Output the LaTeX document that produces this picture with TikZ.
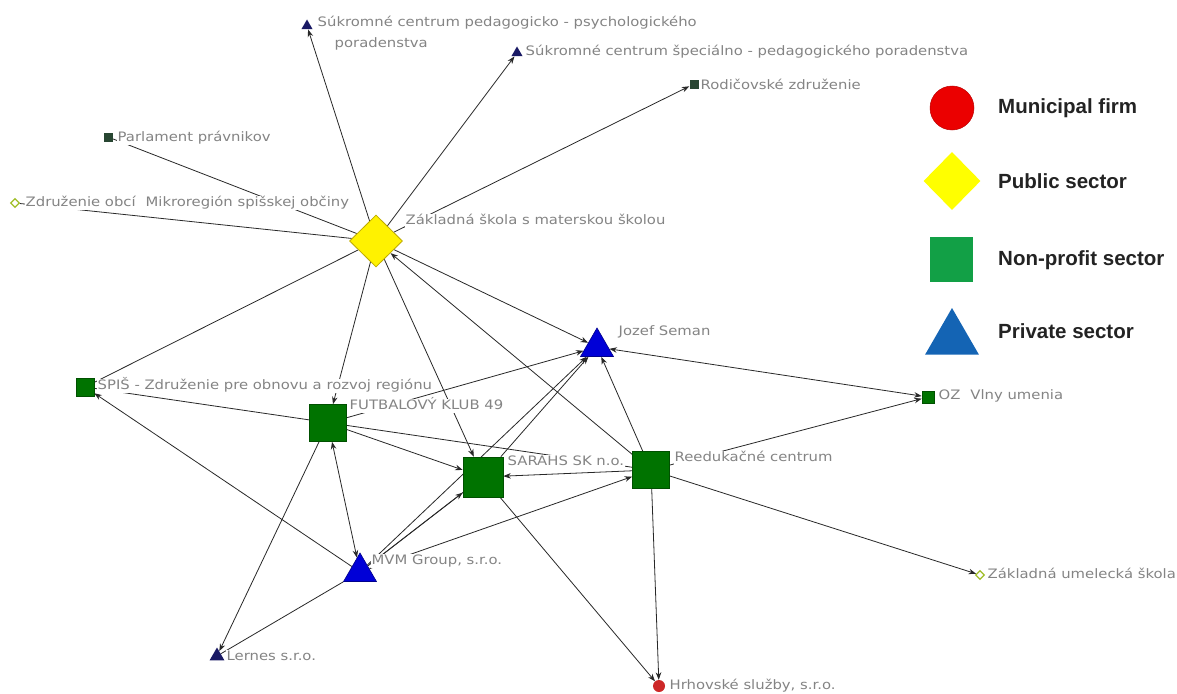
\documentclass[tikz,border=0pt]{standalone}
\usepackage{fontspec}
\setmainfont{DejaVu Sans}
\newfontfamily\lblfont[FakeStretch=1.14]{DejaVu Sans}
\newfontfamily\legfont{Liberation Sans}
\usetikzlibrary{shapes.geometric,arrows.meta}
\pgfdeclarelayer{bg}
\pgfsetlayers{bg,main}
\definecolor{edgec}{RGB}{40,40,40}
\definecolor{lblc}{RGB}{132,132,132}
\definecolor{gfill}{RGB}{0,115,0}
\definecolor{gdraw}{RGB}{0,80,0}
\definecolor{bfill}{RGB}{0,0,215}
\definecolor{bdraw}{RGB}{0,0,140}
\definecolor{nfill}{RGB}{25,25,100}
\definecolor{dsqc}{RGB}{40,70,50}
\definecolor{yfill}{RGB}{255,242,0}
\definecolor{ydraw}{RGB}{190,170,0}
\definecolor{sdiac}{RGB}{160,190,40}
\definecolor{hrhc}{RGB}{205,40,40}
\definecolor{legred}{RGB}{235,0,0}
\definecolor{legyel}{RGB}{255,255,0}
\definecolor{leggreen}{RGB}{18,160,70}
\definecolor{legblue}{RGB}{20,100,180}
\definecolor{legtext}{RGB}{35,35,35}
\begin{document}
\begin{tikzpicture}[x=1pt,y=-1pt,
  lbl/.style={anchor=west, fill=white, inner sep=0.5pt, text=lblc, text height=10pt, text depth=3pt,
    font=\lblfont\fontsize{13}{15}\selectfont},
  legt/.style={anchor=west, inner sep=0pt, text=legtext, text height=14pt, text depth=4pt,
    font=\legfont\bfseries\fontsize{20.5}{23}\selectfont},
  gsq/.style={rectangle, fill=gfill, draw=gdraw, line width=0.6pt, inner sep=0pt},
  dsq/.style={rectangle, fill=dsqc, inner sep=0pt, minimum size=9pt},
  ydia/.style={diamond, fill=yfill, draw=ydraw, line width=0.8pt, inner sep=0pt, minimum width=53pt, minimum height=52pt},
  sdia/.style={diamond, fill=white, draw=sdiac, line width=1.3pt, inner sep=0pt, minimum size=9pt},
  btri/.style={regular polygon, regular polygon sides=3, fill=bfill, draw=bdraw, line width=0.6pt, inner sep=0pt},
  ntri/.style={regular polygon, regular polygon sides=3, fill=nfill, inner sep=0pt},
  rcirc/.style={circle, fill=hrhc, inner sep=0pt, minimum size=12pt},
  ed/.style={draw=edgec, line width=0.8pt},
  arr/.style={ed, -{Stealth[length=7.5pt,width=5.5pt]}},
  arrb/.style={ed, {Stealth[length=7.5pt,width=5.5pt]}-{Stealth[length=7.5pt,width=5.5pt]}}
]
\useasboundingbox (0,0) rectangle (1177,693);

% ---------- network nodes ----------
\node[ydia] (ZS) at (376,241) {};
\node[gsq, minimum size=37pt] (FUT) at (328,423) {};
\node[gsq, minimum size=40pt] (SAR) at (483,477) {};
\node[gsq, minimum size=37pt] (REE) at (651,470) {};
\node[gsq, minimum size=18pt] (SPI) at (85,387) {};
\node[gsq, minimum size=12pt] (OZ) at (928,397) {};
\node[dsq] (PAR) at (108,137) {};
\node[dsq] (ROD) at (694,84) {};
\node[sdia] (ZDR) at (15,203) {};
\node[sdia] (ZUS) at (980,575) {};
\node[btri, minimum size=38pt] (JS) at (597,347) {};
\node[btri, minimum size=38pt] (MVM) at (360,572) {};
\node[ntri, minimum size=13pt] (SCPP) at (307,26) {};
\node[ntri, minimum size=13pt] (SCSP) at (517,53) {};
\node[ntri, minimum size=17pt] (LER) at (217,656) {};
\node[rcirc] (HRH) at (659,686) {};

% ---------- connectors ----------
\begin{pgfonlayer}{bg}
\fill[white] (0,0) rectangle (1177,693);
\draw[arr] (ZS) -- (SCPP);
\draw[arr] (ZS) -- (SCSP);
\draw[arr] (ZS) -- (ROD);
\draw[ed] (ZS) -- (PAR);
\draw[ed] (ZS) -- (ZDR);
\draw[ed] (ZS) -- (SPI);
\draw[arr] (ZS) -- (FUT);
\draw[arr] (ZS) -- (SAR);
\draw[arr] (ZS) -- (JS);
\draw[arr] (REE) -- (ZS);
\draw[ed] (SPI) -- (REE);
\draw[arr] (MVM) -- (SPI);
\draw[arr] (FUT) -- (JS);
\draw[arr] (FUT) -- (SAR);
\draw[arrb] (FUT) -- (MVM);
\draw[arr] (FUT) -- (LER);
\draw[ed] (MVM) -- (LER);
\draw[arr] (MVM) -- (SAR);
\draw[arr, transform canvas={shift={(2.5pt,2pt)}}] (SAR) -- (MVM);
\draw[arr] (MVM) -- (JS);
\draw[arr] (SAR) -- (JS);
\draw[arr] (MVM) -- (REE);
\draw[arr] (REE) -- (SAR);
\draw[arr] (REE) -- (JS);
\draw[arr] (REE) -- (OZ);
\draw[arrb] (JS) -- (OZ);
\draw[arr] (REE) -- (HRH);
\draw[arr] (SAR) -- (HRH);
\draw[arr] (REE) -- (ZUS);
\end{pgfonlayer}

% ---------- labels ----------
\node[lbl] (tSCPPa) at (317,23) {Súkromné centrum pedagogicko - psychologického};
\node[lbl] (tSCPPb) at (334,44) {poradenstva};
\node[lbl] (tSCSP) at (525,52) {Súkromné centrum špeciálno - pedagogického poradenstva};
\node[lbl] (tROD) at (700,86) {Rodičovské združenie};
\node[lbl] (tPAR) at (117,138) {Parlament právnikov};
\node[lbl] (tZDR) at (25,203) {Združenie obcí\hspace{0.4em} Mikroregión spišskej občiny};
\node[lbl] (tZS) at (405,221) {Základná škola s materskou školou};
\node[lbl] (tJS) at (618,332) {Jozef Seman};
\node[lbl] (tOZ) at (938,396) {OZ\hspace{0.4em} Vlny umenia};
\node[lbl] (tSPI) at (97,386) {SPIŠ - Združenie pre obnovu a rozvoj regiónu};
\node[lbl] (tFUT) at (349,406) {FUTBALOVÝ KLUB 49};
\node[lbl] (tSAR) at (507,462) {SARAHS SK n.o.};
\node[lbl] (tREE) at (674,458) {Reedukačné centrum};
\node[lbl] (tMVM) at (371,561) {MVM Group, s.r.o.};
\node[lbl] (tLER) at (226,657) {Lernes s.r.o.};
\node[lbl] (tHRH) at (669,686) {Hrhovské služby, s.r.o.};
\node[lbl] (tZUS) at (987,575) {Základná umelecká škola};

% ---------- legend ----------
\node[circle, fill=legred, draw=legred!80!black, line width=0.5pt, inner sep=0pt, minimum size=44pt] (LC) at (952,108) {};
\node[diamond, fill=legyel, inner sep=0pt, minimum width=57pt, minimum height=58pt] (LD) at (952,181) {};
\node[rectangle, fill=leggreen, inner sep=0pt, minimum width=43pt, minimum height=45pt] (LS) at (951,259) {};
\node[regular polygon, regular polygon sides=3, fill=legblue, inner sep=0pt, minimum size=62pt] (LT) at (952,339) {};
\node[legt] (LCt) at (998,108) {Municipal firm};
\node[legt] (LDt) at (998,183) {Public sector};
\node[legt] (LSt) at (998,260) {Non-profit sector};
\node[legt] (LTt) at (998,333) {Private sector};
\end{tikzpicture}
\end{document}
